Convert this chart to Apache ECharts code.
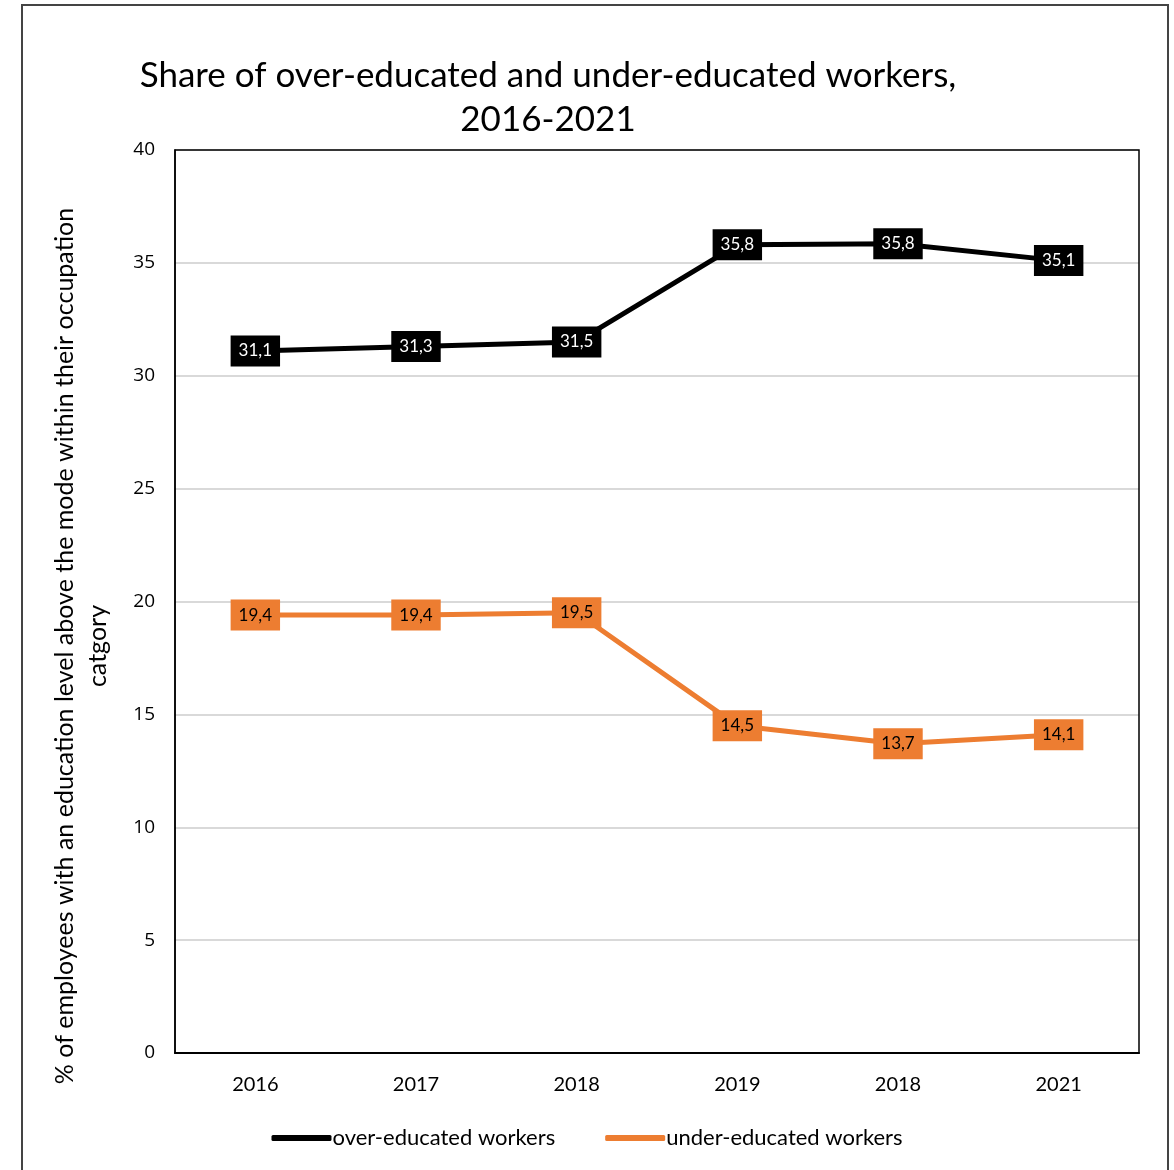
<!DOCTYPE html>
<html lang="en">
<head>
    <meta charset="UTF-8">
    <title>Share of over-educated and under-educated workers</title>
    <script src="https://cdn.jsdelivr.net/npm/echarts@6/dist/echarts.min.js"></script>
</head>
<style>
    html, body { margin: 0; padding: 0; background: #fff; }
    .box { width: 1174px; height: 1170px; }
</style>
<body>
    <div class="box" id="box"></div>
    <script>
        // data
        var years = ['2016', '2017', '2018', '2019', '2018', '2021'];
        var overEducated = [31.1, 31.3, 31.5, 35.8, 35.85, 35.1];
        var overLabels = ['31,1', '31,3', '31,5', '35,8', '35,8', '35,1'];
        var underEducated = [19.4, 19.4, 19.5, 14.5, 13.7, 14.1];
        var underLabels = ['19,4', '19,4', '19,5', '14,5', '13,7', '14,1'];
        var yTicks = [0, 5, 10, 15, 20, 25, 30, 35, 40];

        var font = 'Lato';
        var myChart = echarts.init(document.getElementById('box'));

        var option = {
            backgroundColor: '#fff',
            animation: false,
            title: {
                text: 'Share of over-educated and under-educated workers,\n2016-2021',
                left: 543,
                textAlign: 'center',
                top: 49,
                textStyle: {
                    fontFamily: font,
                    fontWeight: 'normal',
                    fontSize: 35,
                    lineHeight: 44,
                    color: '#000'
                }
            },
            graphic: [{
                type: 'rect',
                shape: { x: 22, y: 5, width: 1146, height: 1180 },
                style: { fill: 'none', stroke: '#444', lineWidth: 2 },
                silent: true
            }, {
                // plot frame
                type: 'rect',
                shape: { x: 175, y: 150, width: 964, height: 903 },
                style: { fill: 'none', stroke: '#000', lineWidth: 1.5 },
                silent: true,
                z: 10
            }, {
                // y axis title
                type: 'text',
                x: 81,
                y: 646,
                rotation: Math.PI / 2,
                style: {
                    text: '% of employees with an education level above the mode within their occupation\ncatgory',
                    align: 'center',
                    verticalAlign: 'middle',
                    fontFamily: font,
                    fontSize: 25,
                    lineHeight: 33,
                    fill: '#000'
                },
                silent: true
            }],
            legend: {
                bottom: 16,
                left: 'center',
                itemWidth: 60,
                itemHeight: 6,
                itemGap: 50,
                icon: 'roundRect',
                textStyle: { fontFamily: font, fontSize: 22, color: '#000', padding: [0, 0, 0, -4] },
                data: ['over-educated workers', 'under-educated workers']
            },
            grid: {
                left: 175,
                right: 35,
                top: 150,
                bottom: 117
            },
            xAxis: {
                type: 'category',
                data: years,
                boundaryGap: true,
                axisTick: { show: false },
                axisLine: { lineStyle: { color: '#000', width: 2 } },
                axisLabel: { fontFamily: font, fontSize: 20, color: '#000', margin: 22 }
            },
            yAxis: {
                type: 'value',
                min: yTicks[0],
                max: yTicks[yTicks.length - 1],
                interval: 5,
                axisLine: { show: true, lineStyle: { color: '#000', width: 1.5 } },
                axisTick: { show: false },
                axisLabel: { fontFamily: 'Open Sans', fontSize: 19, color: '#000', margin: 20 },
                splitLine: { lineStyle: { color: '#d9d9d9', width: 2 } }
            },
            series: [{
                name: 'over-educated workers',
                type: 'line',
                data: overEducated,
                color: '#000',
                lineStyle: { width: 5, color: '#000' },
                symbol: 'circle',
                symbolSize: 1,
                label: {
                    show: true,
                    position: 'inside',
                    formatter: function (p) { return overLabels[p.dataIndex]; },
                    backgroundColor: '#000',
                    color: '#fff',
                    fontFamily: font,
                    fontSize: 17,
                    padding: [8, 8, 6, 8]
                },
                z: 3
            }, {
                name: 'under-educated workers',
                type: 'line',
                data: underEducated,
                color: '#ed7d31',
                lineStyle: { width: 5, color: '#ed7d31' },
                symbol: 'circle',
                symbolSize: 1,
                label: {
                    show: true,
                    position: 'inside',
                    formatter: function (p) { return underLabels[p.dataIndex]; },
                    backgroundColor: '#ed7d31',
                    color: '#000',
                    fontFamily: font,
                    fontSize: 17,
                    padding: [8, 8, 6, 8]
                },
                z: 3
            }]
        };

        myChart.setOption(option);
    </script>
</body>
</html>
